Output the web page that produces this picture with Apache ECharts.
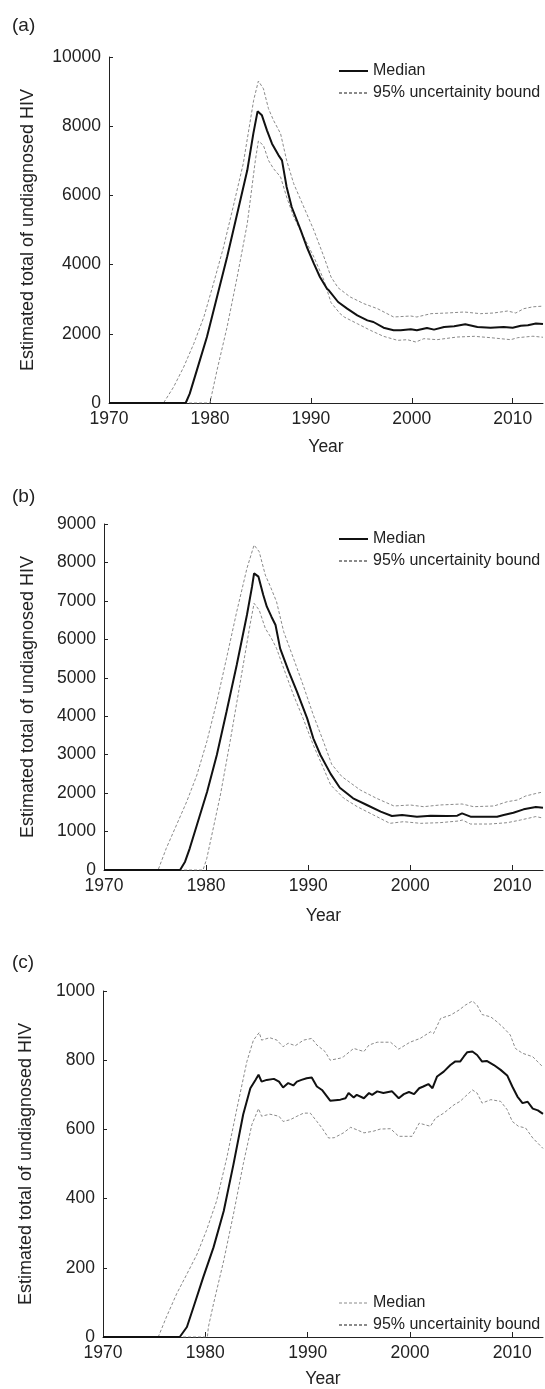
<!DOCTYPE html>
<html>
<head>
<meta charset="utf-8">
<script src="https://cdn.jsdelivr.net/npm/echarts@6/dist/echarts.min.js"></script>
<style>
html,body{margin:0;padding:0;background:#fff;}
#c{width:545px;height:1389px;}
</style>
</head>
<body>
<div id="c"></div>
<script>
// ---------- Data (years / estimated totals) ----------
const xTicks = [1970, 1980, 1990, 2000, 2010];
const legendNames = ['Median', '95% uncertainity bound'];

// Panel (a)
const aMedX = [1970,1977.6,1978.0,1978.7,1979.7,1980.7,1981.7,1982.7,1983.7,1984.3,1984.72,1985.15,1985.65,1986.15,1986.8,1987.14,1987.6,1988.1,1989.0,1989.6,1990.3,1990.9,1991.6,1991.8,1992.7,1993.6,1994.6,1995.6,1996.2,1997.2,1998.2,1998.9,1999.9,2000.5,2001.5,2002.2,2003.2,2004.2,2005.3,2006.5,2007.8,2009.1,2010.0,2010.8,2011.5,2012.3,2013];
const aMedY = [0,0,270,944,1907,3064,4220,5472,6724,7784,8430,8314,7880,7495,7158,7013,6243,5665,4990,4509,4027,3642,3300,3250,2919,2726,2534,2389,2341,2177,2100,2100,2129,2100,2168,2120,2197,2216,2274,2197,2177,2197,2177,2235,2250,2300,2280];
const aUpX = [1970,1975.4,1976.4,1977.4,1978.4,1979.4,1980.35,1981.35,1982.3,1983.3,1984.33,1984.8,1985.3,1985.8,1986.3,1987.0,1987.6,1988.3,1989.3,1990.3,1991.3,1992.0,1992.7,1993.9,1995.25,1996.6,1998.2,1999.9,2000.5,2001.9,2003.5,2005.2,2006.8,2008.1,2009.5,2010.3,2011.1,2012,2013];
const aUpY = [0,0,462,1040,1715,2486,3449,4509,5665,6917,8748,9306,9085,8507,8170,7784,7013,6339,5665,4990,4220,3642,3330,3064,2871,2726,2486,2514,2486,2582,2601,2630,2582,2601,2659,2601,2726,2780,2800];
const aLoX = [1970,1980.0,1980.2,1980.7,1981.7,1982.7,1983.7,1984.5,1984.8,1985.3,1985.8,1986.3,1987.0,1987.6,1988.3,1989.3,1990.3,1991.3,1992.0,1992.9,1993.3,1994.6,1995.9,1997.2,1998.6,1999.55,2000.4,2001.2,2002.5,2004.5,2006.2,2007.8,2009.8,2010.5,2012,2013];
const aLoY = [0,0,270,944,2197,3642,5183,7013,7572,7447,7013,6773,6532,5954,5376,4798,4220,3545,2900,2582,2486,2293,2100,1927,1811,1830,1763,1859,1830,1907,1927,1888,1830,1888,1930,1900];

// Panel (b)
const bMedX = [1970,1977.45,1977.94,1978.4,1979.1,1980.1,1981.05,1982.0,1983.0,1984.0,1984.5,1984.7,1985.13,1985.6,1985.95,1986.4,1986.8,1987.25,1988.1,1988.9,1989.9,1990.5,1991.2,1992.2,1993.1,1994.4,1995.75,1997.1,1998.2,1999.2,2000.65,2002.0,2003.6,2004.6,2005.07,2005.9,2007.2,2008.5,2009.15,2010.1,2011.1,2012.3,2013];
const bMedY = [0,0,217,564,1170,2037,2991,4118,5332,6633,7370,7716,7630,7153,6849,6589,6372,5766,5159,4638,3945,3425,2991,2500,2140,1864,1691,1517,1405,1431,1387,1413,1405,1413,1474,1387,1387,1387,1431,1491,1578,1640,1620];
const bUpX = [1970,1975.3,1976.1,1977.1,1978.1,1979.1,1980.07,1981.05,1982.0,1983.0,1984.0,1984.7,1985.2,1985.8,1986.3,1986.9,1987.6,1988.56,1989.5,1990.5,1991.5,1992.3,1993.3,1995.1,1996.7,1998.4,2000.0,2001.3,2002.9,2005.07,2006.2,2008.2,2009.5,2010.5,2011.3,2012.3,2013];
const bUpY = [0,0,564,1170,1777,2471,3338,4378,5505,6719,7846,8453,8280,7673,7370,6979,6199,5505,4812,4032,3338,2750,2430,2081,1864,1665,1691,1647,1691,1717,1647,1665,1777,1821,1925,1990,2030];
const bLoX = [1970,1979.7,1980.07,1980.56,1981.4,1982.35,1983.3,1984.3,1984.7,1985.2,1985.8,1986.4,1986.9,1987.6,1988.56,1989.5,1990.5,1991.5,1992.2,1993.5,1994.8,1996.4,1998.0,1999.35,2001.0,2002.9,2004.7,2005.1,2005.9,2007.8,2009.5,2010.8,2012.3,2013];
const bLoY = [0,0,303,910,1951,3338,4812,6372,6936,6763,6286,6026,5766,5245,4552,3945,3251,2644,2211,1864,1647,1431,1214,1257,1214,1231,1274,1300,1196,1196,1231,1300,1390,1350];

// Panel (c)
const cMedX = [1970,1977.5,1978.2,1978.84,1979.8,1980.8,1981.8,1982.75,1983.7,1984.4,1984.9,1985.2,1985.5,1986.0,1986.7,1987.2,1987.6,1988.1,1988.6,1988.95,1989.4,1989.9,1990.4,1990.9,1991.4,1992.2,1993.2,1993.7,1994.0,1994.5,1994.8,1995.5,1996.0,1996.3,1996.8,1997.4,1998.25,1998.9,1999.4,1999.9,2000.4,2000.9,2001.3,2001.8,2002.2,2002.65,2003.3,2003.95,2004.4,2004.9,2005.25,2005.6,2006.1,2006.56,2007.05,2007.5,2008.2,2008.86,2009.5,2010.0,2010.5,2011.0,2011.5,2012.0,2012.5,2013];
const cMedY = [0,0,29,86,173,259,364,499,643,719,743,758,738,743,746,738,721,734,727,738,743,748,750,724,714,683,686,690,705,692,700,690,705,700,710,705,710,690,702,708,702,719,724,731,719,753,767,786,796,796,810,823,825,815,796,798,786,772,756,724,695,676,680,660,655,645];
const cUpX = [1970,1975.4,1976.2,1977.2,1978.2,1979.2,1980.1,1981.1,1982.1,1983.1,1984.06,1984.7,1985.27,1985.5,1986.3,1987.0,1987.6,1988.1,1988.8,1989.6,1990.4,1990.9,1991.7,1992.2,1993.2,1993.5,1994.5,1995.5,1996.0,1996.8,1998.1,1998.9,2000.0,2001.0,2002.0,2002.3,2003.0,2003.95,2004.8,2005.4,2006.1,2006.56,2007.05,2007.9,2008.5,2009.2,2009.8,2010.3,2011.0,2012.0,2013];
const cUpY = [0,0,58,125,182,240,307,393,518,662,796,858,880,858,865,858,839,849,842,858,863,844,825,800,806,810,834,825,844,852,852,832,852,863,882,877,921,930,945,959,971,959,932,925,911,892,873,834,820,810,780];
const cLoX = [1970,1980.2,1980.3,1980.8,1981.8,1982.75,1983.7,1984.55,1985.2,1985.5,1986.3,1987.2,1987.6,1988.3,1988.95,1989.6,1990.26,1990.9,1991.4,1992.05,1992.6,1993.5,1994.2,1994.8,1995.5,1996.45,1997.1,1998.1,1998.9,2000.2,2000.9,2002.0,2002.5,2003.3,2004.3,2004.9,2005.4,2006.1,2006.56,2007.05,2007.9,2008.86,2009.5,2010.0,2010.6,2011.3,2012.0,2013];
const cLoY = [0,0,29,96,221,355,499,614,660,638,644,638,623,628,638,647,647,623,604,575,576,590,606,599,590,595,601,602,580,580,618,609,633,647,671,681,695,714,705,676,686,681,657,623,609,604,575,545];

// ---------- Build chart ----------
const zip = (xs, ys) => xs.map((x, i) => [x, ys[i]]);
const FONT = "'Liberation Sans', Arial, Helvetica, sans-serif";
const TXT = '#222';
const GRAY = '#8a8a8a';
const plain = v => String(v);

const panels = [
  {label:'(a)', labelTop:16, grid:{left:109, top:57, right:2, height:346}, yMax:10000, yInt:2000, yGap:72, xGap:35, legendTop:63, med:[aMedX,aMedY], up:[aUpX,aUpY], lo:[aLoX,aLoY]},
  {label:'(b)', labelTop:487, grid:{left:104, top:524, right:2, height:346}, yMax:9000, yInt:1000, yGap:67, xGap:37, legendTop:531, med:[bMedX,bMedY], up:[bUpX,bUpY], lo:[bLoX,bLoY]},
  {label:'(c)', labelTop:953, grid:{left:103, top:991, right:2, height:347}, yMax:1000, yInt:200, yGap:68, xGap:33, legendTop:1295, med:[cMedX,cMedY], up:[cUpX,cUpY], lo:[cLoX,cLoY], grayMedianLegend:true}
];

const option = {
  animation:false,
  backgroundColor:'#fff',
  textStyle:{fontFamily:FONT, color:TXT},
  title:[], grid:[], xAxis:[], yAxis:[], legend:[], series:[]
};

panels.forEach((p, i) => {
  option.title.push({text:p.label, left:12, top:p.labelTop, padding:0,
    textStyle:{fontFamily:FONT, fontSize:19, fontWeight:'normal', color:TXT}});
  option.grid.push(p.grid);
  option.xAxis.push({
    type:'value', gridIndex:i, min:1970, max:2013, interval:10,
    axisLine:{show:true, lineStyle:{color:TXT, width:1}},
    axisTick:{show:true, inside:true, length:5, customValues:xTicks, lineStyle:{color:TXT}},
    axisLabel:{customValues:xTicks, formatter:plain, fontSize:17.5, color:TXT, margin:7, fontFamily:FONT},
    splitLine:{show:false},
    name:'Year', nameLocation:'middle', nameGap:p.xGap,
    nameTextStyle:{fontSize:17.5, color:TXT, fontFamily:FONT}
  });
  option.yAxis.push({
    type:'value', gridIndex:i, min:0, max:p.yMax, interval:p.yInt,
    axisLine:{show:true, lineStyle:{color:TXT, width:1}},
    axisTick:{show:true, inside:true, length:4, lineStyle:{color:TXT}},
    axisLabel:{formatter:plain, fontSize:17.5, color:TXT, margin:8, fontFamily:FONT},
    splitLine:{show:false},
    name:'Estimated total of undiagnosed HIV', nameLocation:'middle', nameGap:p.yGap,
    nameTextStyle:{fontSize:18, color:TXT, fontFamily:FONT}
  });
  const medEntry = p.grayMedianLegend
    ? {name:legendNames[0], lineStyle:{color:GRAY, width:1, type:[3,2]}}
    : {name:legendNames[0]};
  option.legend.push({
    data:[medEntry, {name:legendNames[1]}],
    orient:'vertical', left:338, top:p.legendTop, padding:0,
    itemWidth:29, itemHeight:14, itemGap:6, selectedMode:false,
    itemStyle:{opacity:0},
    textStyle:{fontSize:16, color:TXT, fontFamily:FONT, lineHeight:16}
  });
  const bound = {color:GRAY, width:1, type:[3,2]};
  option.series.push(
    {name:legendNames[1], type:'line', xAxisIndex:i, yAxisIndex:i, symbol:'none', showSymbol:false,
     data:zip(p.up[0], p.up[1]), lineStyle:bound, itemStyle:{color:GRAY}, z:2},
    {name:legendNames[1], type:'line', xAxisIndex:i, yAxisIndex:i, symbol:'none', showSymbol:false,
     data:zip(p.lo[0], p.lo[1]), lineStyle:bound, itemStyle:{color:GRAY}, z:2},
    {name:legendNames[0], type:'line', xAxisIndex:i, yAxisIndex:i, symbol:'none', showSymbol:false,
     data:zip(p.med[0], p.med[1]), lineStyle:{color:'#111', width:2}, itemStyle:{color:'#111'}, z:3}
  );
});

const chart = echarts.init(document.getElementById('c'));
chart.setOption(option);
</script>
</body>
</html>
